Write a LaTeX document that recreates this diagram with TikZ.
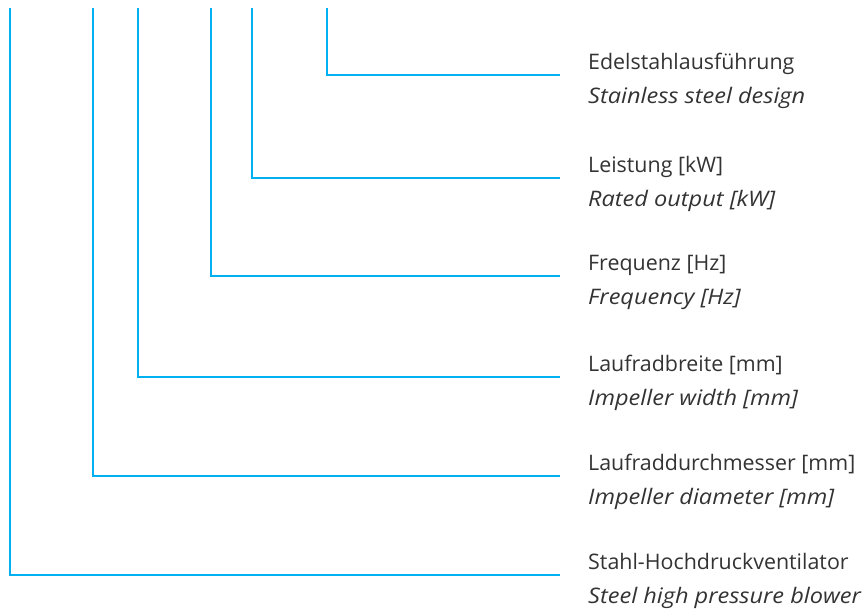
\documentclass[tikz,border=0pt]{standalone}
\usepackage{fontspec}
\setmainfont{Open Sans}
\newfontfamily\enfont{Open Sans}[FakeStretch=1.1]
\definecolor{leader}{HTML}{00B0F0}
\definecolor{txt}{HTML}{333333}
\begin{document}
\begin{tikzpicture}[x=1pt,y=-1pt,
  leaderline/.style={draw=leader,line width=2pt},
  de/.style={anchor=base west,inner sep=0pt,text=txt,font=\fontsize{21.4}{25}\selectfont},
  en/.style={de,font=\enfont\fontsize{21.4}{25}\selectfont\itshape}]
\useasboundingbox (0,0) rectangle (863,611);
% code positions along the top and their label rows
\foreach \name/\x/\y/\de/\en in {
  s/327/75/Edelstahlausführung/Stainless steel design,
  p/252/178/Leistung [kW]/Rated output [kW],
  f/211/276/Frequenz [Hz]/Frequency [Hz],
  b/138/377/Laufradbreite [mm]/Impeller width [mm],
  d/93/476/Laufraddurchmesser [mm]/Impeller diameter [mm],
  t/10/575/Stahl-Hochdruckventilator/Steel high pressure blower}{
  \coordinate (\name top) at (\x,8);
  \coordinate (\name end) at (560,\y);
  \node[de] (\name de) at (588,\y-6) {\de};
  \node[en] (\name en) at (588,\y+28) {\en};
  \draw[leaderline] (\name top) |- (\name end);
}
\end{tikzpicture}
\end{document}
